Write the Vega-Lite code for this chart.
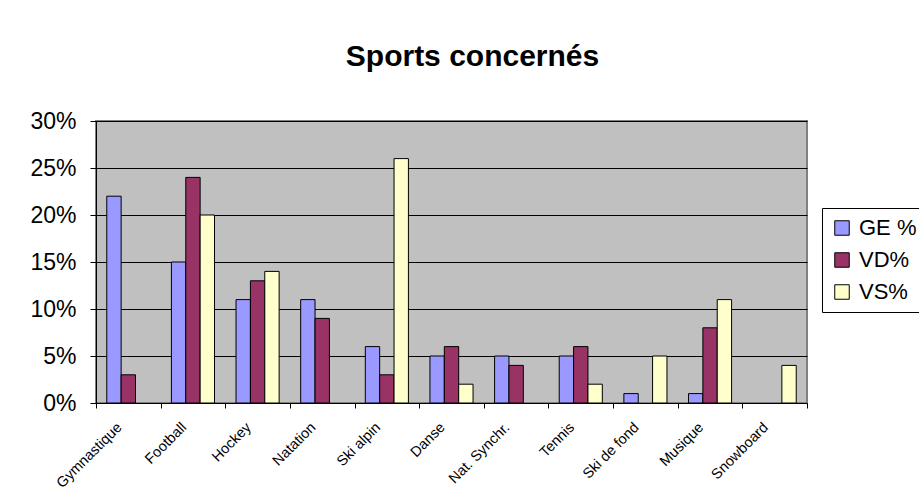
{
  "$schema": "https://vega.github.io/schema/vega-lite/v6.json",
  "autosize": "none",
  "width": 711,
  "height": 282,
  "padding": {"left": 96, "top": 121, "right": 112, "bottom": 99},
  "background": "white",
  "title": {
    "text": "Sports concernés",
    "font": "Liberation Sans",
    "fontSize": 30,
    "fontWeight": "bold",
    "color": "black",
    "anchor": "middle",
    "dx": 21,
    "offset": 38
  },
  "data": {
    "values": [
      {"sport": "Gymnastique", "serie": "GE %", "pct": 22},
      {"sport": "Gymnastique", "serie": "VD%", "pct": 3},
      {"sport": "Football", "serie": "GE %", "pct": 15},
      {"sport": "Football", "serie": "VD%", "pct": 24},
      {"sport": "Football", "serie": "VS%", "pct": 20},
      {"sport": "Hockey", "serie": "GE %", "pct": 11},
      {"sport": "Hockey", "serie": "VD%", "pct": 13},
      {"sport": "Hockey", "serie": "VS%", "pct": 14},
      {"sport": "Natation", "serie": "GE %", "pct": 11},
      {"sport": "Natation", "serie": "VD%", "pct": 9},
      {"sport": "Ski alpin", "serie": "GE %", "pct": 6},
      {"sport": "Ski alpin", "serie": "VD%", "pct": 3},
      {"sport": "Ski alpin", "serie": "VS%", "pct": 26},
      {"sport": "Danse", "serie": "GE %", "pct": 5},
      {"sport": "Danse", "serie": "VD%", "pct": 6},
      {"sport": "Danse", "serie": "VS%", "pct": 2},
      {"sport": "Nat. Synchr.", "serie": "GE %", "pct": 5},
      {"sport": "Nat. Synchr.", "serie": "VD%", "pct": 4},
      {"sport": "Tennis", "serie": "GE %", "pct": 5},
      {"sport": "Tennis", "serie": "VD%", "pct": 6},
      {"sport": "Tennis", "serie": "VS%", "pct": 2},
      {"sport": "Ski de fond", "serie": "GE %", "pct": 1},
      {"sport": "Ski de fond", "serie": "VS%", "pct": 5},
      {"sport": "Musique", "serie": "GE %", "pct": 1},
      {"sport": "Musique", "serie": "VD%", "pct": 8},
      {"sport": "Musique", "serie": "VS%", "pct": 11},
      {"sport": "Snowboard", "serie": "VS%", "pct": 4}
    ]
  },
  "mark": {"type": "bar", "stroke": "black", "strokeWidth": 1},
  "encoding": {
    "x": {
      "field": "sport",
      "type": "nominal",
      "sort": ["Gymnastique", "Football", "Hockey", "Natation", "Ski alpin", "Danse", "Nat. Synchr.", "Tennis", "Ski de fond", "Musique", "Snowboard"],
      "scale": {"paddingInner": 0, "paddingOuter": 0},
      "axis": {
        "title": null,
        "labelAngle": -45,
        "labelFont": "Liberation Sans",
        "labelFontSize": 14.5,
        "labelColor": "black",
        "labelPadding": 12,
        "labelOffset": -14,
        "labelOverlap": false,
        "tickBand": "extent",
        "tickColor": "black",
        "tickSize": 5,
        "domainColor": "black",
        "grid": false
      }
    },
    "xOffset": {
      "field": "serie",
      "type": "nominal",
      "sort": ["GE %", "VD%", "VS%"],
      "scale": {"domain": ["GE %", "VD%", "VS%"], "paddingInner": 0, "paddingOuter": 0.75}
    },
    "y": {
      "field": "pct",
      "type": "quantitative",
      "scale": {"domain": [0, 30], "nice": false},
      "axis": {
        "title": null,
        "values": [0, 5, 10, 15, 20, 25, 30],
        "labelExpr": "datum.value + '%'",
        "labelFont": "Liberation Sans",
        "labelFontSize": 23,
        "labelColor": "black",
        "labelPadding": 14,
        "tickColor": "black",
        "tickSize": 6,
        "domainColor": "black",
        "gridColor": "black",
        "gridOpacity": 1
      }
    },
    "color": {
      "field": "serie",
      "type": "nominal",
      "scale": {"domain": ["GE %", "VD%", "VS%"], "range": ["#9999FF", "#993366", "#FFFFCC"]},
      "legend": {
        "title": null,
        "orient": "none",
        "legendX": 726,
        "legendY": 87,
        "symbolType": "square",
        "symbolSize": 210,
        "symbolStrokeColor": "black",
        "symbolStrokeWidth": 1,
        "symbolOpacity": 1,
        "labelFont": "Liberation Sans",
        "labelFontSize": 22,
        "labelColor": "black",
        "labelOffset": 6,
        "rowPadding": 10,
        "padding": 9,
        "strokeColor": "black",
        "fillColor": "white"
      }
    }
  },
  "config": {
    "view": {"fill": "#C0C0C0", "stroke": "#808080", "strokeWidth": 2},
    "axis": {"domainWidth": 1, "tickWidth": 1, "gridWidth": 1}
  }
}
